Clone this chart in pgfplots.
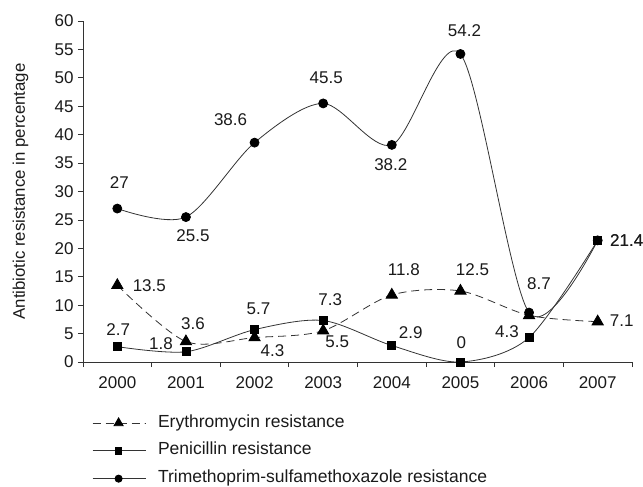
\documentclass[border=0pt]{standalone}
\usepackage{fontspec}
\setmainfont{Liberation Sans}
\usepackage{pgfplots}
\pgfplotsset{compat=1.18}
\usepackage{pgfplotstable}

\pgfplotstableread{
x y lab dx dy
0 13.5 13.5 32 0
1 3.6 3.6 7 18
2 4.3 4.3 18 -13
3 5.5 5.5 14 -11
4 11.8 11.8 12 25
5 12.5 12.5 12 21
6 8.2 {} 0 0
7 7.1 7.1 24 1
}\ery

\pgfplotstableread{
x y lab dx dy
0 2.7 2.7 1 17
1 1.8 1.8 -25 8
2 5.7 5.7 4 21
3 7.3 7.3 7 21
4 2.9 2.9 19 13
5 0 0 1 19
6 4.3 4.3 -22 6
7 21.4 21.4 29 0
}\pen

\pgfplotstableread{
x y lab dx dy
0 27 27 2 26
1 25.5 25.5 7 -19
2 38.6 38.6 -24 23
3 45.5 45.5 3 26
4 38.2 38.2 -1 -20
5 54.2 54.2 4 23
6 8.7 8.7 10 29
7 21.4 21.4 29 0
}\tri

\definecolor{linec}{HTML}{333333}
\definecolor{txt}{HTML}{1A1A1A}

\begin{document}
\begin{tikzpicture}
\useasboundingbox (-83bp,-125bp) rectangle (560bp,362bp);
\begin{axis}[
  at={(0,0)}, anchor=south west,
  scale only axis, width=549bp, height=341bp,
  xmin=-0.5, xmax=7.5, ymin=0, ymax=60,
  axis x line*=bottom, axis y line*=left,
  axis line style={linec, line width=0.8bp},
  xtick={0,1,2,3,4,5,6,7},
  xticklabels={2000,2001,2002,2003,2004,2005,2006,2007},
  minor xtick={-0.5,0.5,1.5,2.5,3.5,4.5,5.5,6.5,7.5},
  major x tick style={draw=none},
  minor tick style={linec, line width=0.8bp},
  major tick style={linec, line width=0.8bp},
  ytick={0,5,...,60},
  tick align=outside,
  major tick length=5bp, minor tick length=5bp,
  /pgf/number format/assume math mode=true,
  tick label style={font=\fontsize{17bp}{20bp}\selectfont, text=txt},
  xticklabel style={yshift=-6bp},
  yticklabel style={xshift=-1bp},
  ylabel={Antibiotic resistance in percentage},
  every axis y label/.style={at={(axis description cs:-0.114,0.5)}, rotate=90, anchor=center, font=\fontsize{16.8bp}{20bp}\selectfont, text=txt},
  clip=false,
  legend style={at={(axis description cs:0.0164,-0.155)}, anchor=north west, draw=none, fill=none,
     font=\fontsize{17.5bp}{20bp}\selectfont, text=txt, row sep=11.8bp, inner sep=0pt,
     nodes={inner sep=0pt, text height=12bp, text depth=4bp},
     /tikz/every odd column/.append style={column sep=12bp}},
  legend cell align=left,
  legend image code/.code={\draw[mark repeat=2,mark phase=2,#1,mark size=0.8*\pgfplotmarksize] plot coordinates {(0bp,0bp) (26bp,0bp) (53bp,0bp)};},
  point meta=explicit symbolic,
  nodes near coords,
  visualization depends on={\thisrow{dx} \as \lblx},
  visualization depends on={\thisrow{dy} \as \lbly},
  every node near coord/.append style={anchor=center, xshift=\lblx*1bp, yshift=\lbly*1bp,
     font=\fontsize{17bp}{20bp}\selectfont, text=txt, inner sep=0pt},
]
\addplot[smooth, linec, line width=0.8bp, dash pattern=on 8bp off 5bp,
   mark=triangle*, mark size=6.5bp, mark options={solid, fill=black, draw=black}]
   table[x=x, y=y, meta=lab] {\ery};
\addlegendentry{Erythromycin resistance}
\addplot[smooth, linec, line width=0.8bp,
   mark=square*, mark size=4bp, mark options={solid, fill=black, draw=black}]
   table[x=x, y=y, meta=lab] {\pen};
\addlegendentry{Penicillin resistance}
\addplot[smooth, linec, line width=0.8bp,
   mark=*, mark size=4.5bp, mark options={solid, fill=black, draw=black}]
   table[x=x, y=y, meta=lab] {\tri};
\addlegendentry{Trimethoprim-sulfamethoxazole resistance}
\end{axis}
\end{tikzpicture}
\end{document}
